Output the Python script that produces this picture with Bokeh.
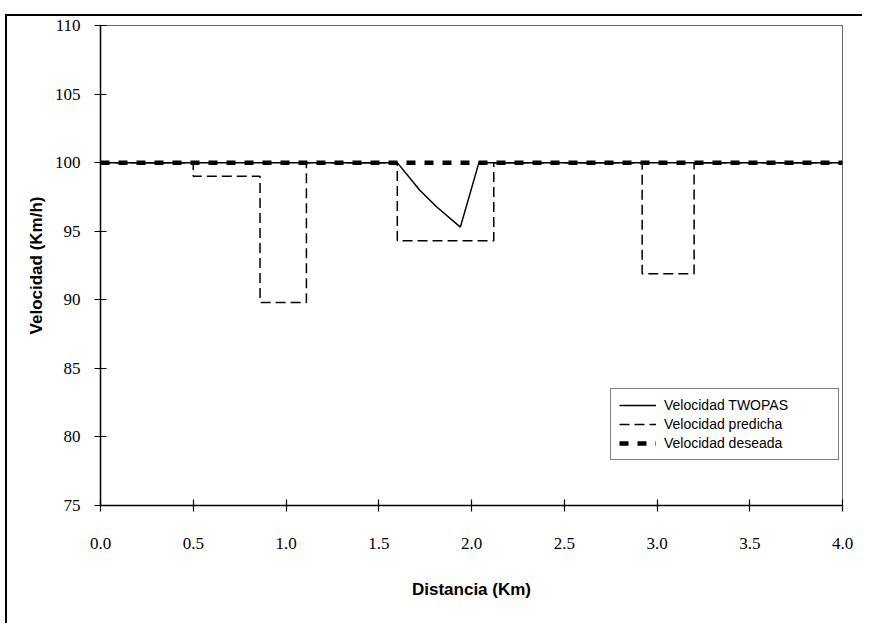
from bokeh.plotting import figure
from bokeh.models import Range1d, FixedTicker, Legend, LegendItem
from bokeh.embed import file_html
from bokeh.resources import INLINE

# Data
twopas_x = [0.0, 1.60, 1.72, 1.81, 1.94, 2.04, 4.0]
twopas_y = [100.0, 100.0, 98.0, 96.8, 95.3, 100.0, 100.0]

pred_x = [0.0, 0.50, 0.50, 0.86, 0.86, 1.11, 1.11, 1.60, 1.60, 2.12, 2.12, 2.92, 2.92, 3.20, 3.20, 4.0]
pred_y = [100.0, 100.0, 99.0, 99.0, 89.8, 89.8, 100.0, 100.0, 94.3, 94.3, 100.0, 100.0, 91.9, 91.9, 100.0, 100.0]

desired_x = [0.0, 4.0]
desired_y = [100.0, 100.0]

x_ticks = [0.0, 0.5, 1.0, 1.5, 2.0, 2.5, 3.0, 3.5, 4.0]
y_ticks = [75, 80, 85, 90, 95, 100, 105, 110]

series_names = ["Velocidad TWOPAS", "Velocidad predicha", "Velocidad deseada"]

p = figure(width=857, height=609, output_backend="svg", toolbar_location=None,
           x_range=Range1d(0, 4), y_range=Range1d(75, 110),
           min_border_left=93, min_border_right=22, min_border_top=9, min_border_bottom=120)
p.styles = {"border-left": "2px solid black", "border-top": "2px solid black",
            "margin-left": "5px", "margin-top": "14px"}

p.xgrid.visible = False
p.ygrid.visible = False
p.background_fill_color = "white"
p.border_fill_color = "white"
p.outline_line_color = "black"
p.outline_line_alpha = 0.6
p.outline_line_width = 1

r_desired = p.line(desired_x, desired_y, line_color="black", line_width=4.5, line_dash="9 9")
r_pred = p.line(pred_x, pred_y, line_color="black", line_width=1.5, line_dash="10 5")
r_twopas = p.line(twopas_x, twopas_y, line_color="black", line_width=1.5)

for ax in (p.xaxis[0], p.yaxis[0]):
    ax.axis_line_color = "black"
    ax.axis_line_width = 1.5
    ax.major_tick_line_color = "black"
    ax.major_tick_line_width = 1.2
    ax.major_tick_in = 6
    ax.major_tick_out = 6
    ax.minor_tick_line_color = None
    ax.major_label_text_font = "Liberation Serif"
    ax.major_label_text_font_size = "17px"
    ax.major_label_text_color = "black"
    ax.axis_label_text_font = "Liberation Sans"
    ax.axis_label_text_font_style = "bold"
    ax.axis_label_text_font_size = "17px"
    ax.axis_label_text_color = "black"

p.xaxis[0].ticker = FixedTicker(ticks=x_ticks)
p.yaxis[0].ticker = FixedTicker(ticks=y_ticks)
p.xaxis[0].major_label_overrides = {t: f"{t:.1f}" for t in x_ticks}
p.xaxis[0].major_label_standoff = 26
p.yaxis[0].major_label_standoff = 14
p.xaxis[0].axis_label = "Distancia (Km)"
p.yaxis[0].axis_label = "Velocidad (Km/h)"
p.xaxis[0].axis_label_standoff = 28
p.yaxis[0].axis_label_standoff = 6

legend = Legend(items=[LegendItem(label=series_names[0], renderers=[r_twopas]),
                       LegendItem(label=series_names[1], renderers=[r_pred]),
                       LegendItem(label=series_names[2], renderers=[r_desired])],
                location=(510, 45))
legend.border_line_color = "black"
legend.border_line_width = 1.2
legend.background_fill_color = "white"
legend.background_fill_alpha = 1
legend.label_text_font = "Liberation Sans"
legend.label_text_font_size = "14px"
legend.label_text_color = "black"
legend.glyph_width = 37
legend.glyph_height = 16
legend.label_height = 16
legend.label_width = 166
legend.label_standoff = 8
legend.spacing = 3
legend.padding = 8
legend.margin = 0
p.add_layout(legend)

open("out.html", "w").write(file_html(p, INLINE))
